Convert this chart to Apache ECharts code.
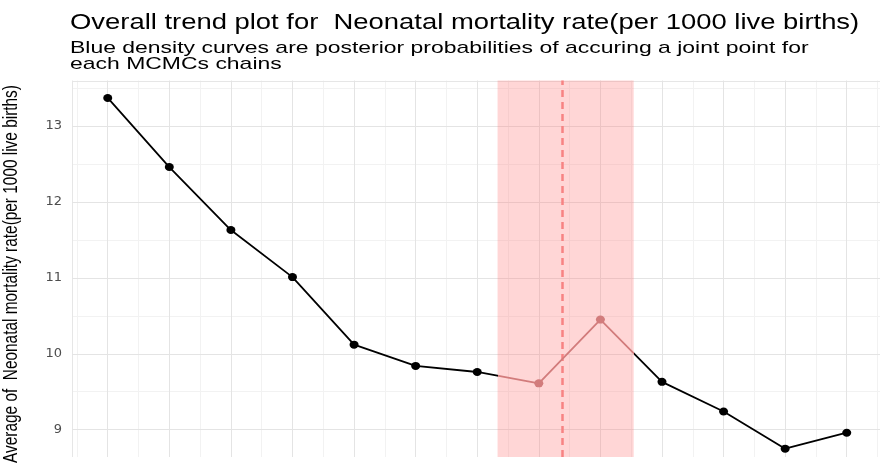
<!DOCTYPE html>
<html>
<head>
<meta charset="utf-8">
<script src="https://cdn.jsdelivr.net/npm/echarts@6/dist/echarts.min.js"></script>
<style>
  html, body { margin: 0; padding: 0; background: #fff; }
  #chart { width: 880px; height: 466px; }
</style>
</head>
<body>
<div id="chart"></div>
<script>
// data
const periods = [1, 2, 3, 4, 5, 6, 7, 8, 9, 10, 11, 12, 13];
const rateValues = [13.37, 12.46, 11.63, 11.01, 10.12, 9.84, 9.76, 9.61, 10.45, 9.63, 9.24, 8.75, 8.96];
const yTicks = [9, 10, 11, 12, 13];
const bandRange = [7.33, 9.54];   // shaded interval of the joint point
const jointPoint = 8.385;         // dashed line

// grid breaks
const majorX = periods;
const minorX = [0.5, 1.5, 2.5, 3.5, 4.5, 5.5, 6.5, 7.5, 8.5, 9.5, 10.5, 11.5, 12.5, 13.5];
const majorY = yTicks;
const minorY = [9.5, 10.5, 11.5, 12.5, 13.5];

const xMin = 0.42, xMax = 13.54;
const yMin = 8.64, yMax = 13.6;

const font = 'Liberation Sans, Arial, Helvetica, sans-serif';

function gridLines(values, axis, color) {
  return values.map(v => ({
    [axis]: v,
    lineStyle: { color: color, width: 1, type: 'solid' }
  }));
}

const chart = echarts.init(document.getElementById('chart'));

chart.setOption({
  animation: false,
  // the reference picture is stretched sideways, so the texts are scaled too
  graphic: [{
    type: 'text',
    x: 70,
    y: 12,
    scaleX: 1.246,
    style: {
      text: 'Overall trend plot for  Neonatal mortality rate(per 1000 live births)',
      fontFamily: font,
      fontSize: 22,
      fill: '#000',
      align: 'left',
      verticalAlign: 'top'
    }
  }, {
    type: 'text',
    x: 70,
    y: 41,
    scaleX: 1.35,
    style: {
      text: 'Blue density curves are posterior probabilities of accuring a joint point for\neach MCMCs chains',
      fontFamily: font,
      fontSize: 17,
      lineHeight: 15.5,
      fill: '#000',
      align: 'left',
      verticalAlign: 'top'
    }
  }, {
    type: 'text',
    x: 12,
    y: 274,
    rotation: Math.PI / 2,
    scaleY: 1.27,
    style: {
      text: 'Average of  Neonatal mortality rate(per 1000 live births)',
      fontFamily: font,
      fontSize: 15.4,
      fill: '#000',
      align: 'center',
      verticalAlign: 'middle'
    }
  }],
  grid: { left: 72, right: 0, top: 80.5, bottom: 9, containLabel: false },
  xAxis: {
    type: 'value',
    min: xMin,
    max: xMax,
    axisLine: { show: false },
    axisTick: { show: false },
    axisLabel: { show: false },
    splitLine: { show: false }
  },
  yAxis: {
    type: 'value',
    min: yMin,
    max: yMax,
    axisLine: { show: false },
    axisTick: { show: false },
    splitLine: { show: false },
    axisLabel: {
      customValues: yTicks,
      color: '#4d4d4d',
      fontFamily: 'DejaVu Sans, sans-serif',
      fontSize: 13,
      margin: 10
    }
  },
  visualMap: {
    show: false,
    type: 'piecewise',
    seriesIndex: 2,
    dimension: 0,
    pieces: [
      { lt: bandRange[0], color: '#000' },
      { gte: bandRange[0], lte: bandRange[1], color: '#d27c7c' },
      { gt: bandRange[1], color: '#000' }
    ]
  },
  series: [{
    // panel grid
    type: 'line',
    data: [],
    silent: true,
    z: 0,
    markLine: {
      silent: true,
      z: 0,
      symbol: 'none',
      label: { show: false },
      emphasis: { disabled: true },
      data: [].concat(
        gridLines(minorX, 'xAxis', '#f2f2f2'),
        gridLines(minorY, 'yAxis', '#f2f2f2'),
        gridLines([xMin + 0.01], 'xAxis', '#e6e6e6'),
        gridLines([yMax - 0.01], 'yAxis', '#e6e6e6'),
        gridLines(majorX, 'xAxis', '#e4e4e4'),
        gridLines(majorY, 'yAxis', '#e4e4e4')
      )
    }
  }, {
    // credible interval band + joint point
    type: 'line',
    data: [],
    silent: true,
    z: 1,
    markArea: {
      silent: true,
      z: 1,
      itemStyle: { color: 'rgba(255, 120, 120, 0.3)' },
      data: [[{ xAxis: bandRange[0] }, { xAxis: bandRange[1] }]]
    },
    markLine: {
      silent: true,
      z: 2,
      symbol: 'none',
      label: { show: false },
      emphasis: { disabled: true },
      lineStyle: { color: '#f78383', width: 2.5, type: [7, 5] },
      data: [{ xAxis: jointPoint }]
    }
  }, {
    type: 'line',
    z: 3,
    data: periods.map((p, i) => [p, rateValues[i]]),
    symbol: 'circle',
    symbolSize: [9, 8],
    itemStyle: { borderWidth: 0 },
    lineStyle: { width: 1.8 },
    silent: true
  }]
});
</script>
</body>
</html>
